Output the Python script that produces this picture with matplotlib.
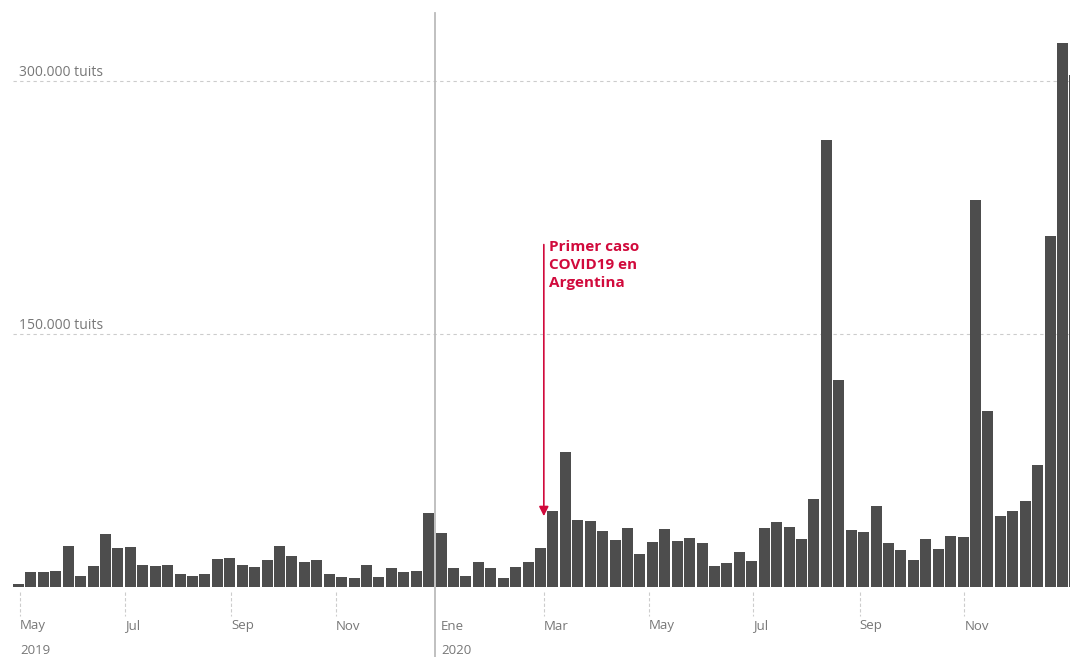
import matplotlib.pyplot as plt
import matplotlib.transforms as mtransforms
import numpy as np
import pandas as pd

# weekly tweet counts, May 2019 - Dec 2020
tuits = [
    1800, 8900, 8900, 9500, 24400, 6500, 12500, 31500, 23200, 23800,
    13100, 12500, 13100, 7700, 6500, 7700, 16700, 17300, 13100, 11900,
    16100, 24400, 18500, 14900, 16100, 7700, 6000, 5400, 13100, 6000,
    11300, 8900, 9500, 44000, 32100, 11300, 6500, 14900, 11300, 5400,
    11900, 14900, 23200, 45200, 79800, 39900, 39300, 33300, 28000, 35100,
    19600, 26800, 34500, 27400, 29200, 26200, 12500, 14300, 20800, 15500,
    35100, 38700, 35700, 28600, 52400, 264900, 122600, 33900, 32700, 48200,
    26200, 22000, 16100, 28600, 22600, 30400, 29800, 229700, 104200, 42300,
    45200, 51200, 72600, 208300, 322600, 303500,
]
first_week = pd.Timestamp("2019-04-30")
month_dates = pd.to_datetime([
    "2019-05-01", "2019-07-01", "2019-09-01", "2019-11-01", "2020-01-01",
    "2020-03-01", "2020-05-01", "2020-07-01", "2020-09-01", "2020-11-01",
])
month_labels = ["May", "Jul", "Sep", "Nov", "Ene", "Mar", "May", "Jul", "Sep", "Nov"]
grid_values = [150000, 300000]
grid_labels = ["150.000 tuits", "300.000 tuits"]
covid_date = pd.Timestamp("2020-03-01")
year_split = 33.5  # between last 2019 bar and first 2020 bar

BAR = "#4d4d4d"
GREY = "#777777"
RED = "#d10a3c"
FONT = "Open Sans"


def to_slot(d):
    # month axis runs slightly slower than the bar slots
    return (d - first_week).days / 7.24


fig = plt.figure(figsize=(10.70, 6.57), dpi=100)
ax = fig.add_axes([0, 70 / 657, 1, 587 / 657])

x = np.arange(len(tuits))
ax.bar(x, tuits, width=0.885, color=BAR, zorder=2)

ax.set_xlim(-1.49, 84.6)
ax.set_ylim(0, 348000)
ax.axis("off")

for v, lab in zip(grid_values, grid_labels):
    ax.plot([-0.45, 84.6], [v, v], color="#cccccc", lw=0.8, ls=(0, (3, 3)), zorder=1)
    ax.text(0.04, v + 500, lab, color=GREY, fontsize=10, family=FONT,
            ha="left", va="bottom")

# month ticks and labels below the bars
trans = mtransforms.blended_transform_factory(ax.transData, fig.transFigure)
for d, lab in zip(month_dates, month_labels):
    p = to_slot(d)
    if lab != "Ene":
        ax.plot([p, p], [1 - 592 / 657, 1 - 616 / 657], transform=trans,
                color="#cccccc", lw=0.8, ls=(0, (3, 2)), clip_on=False)
    ax.text(p, 1 - 626 / 657, lab, transform=trans, color=GREY, fontsize=9.5,
            family=FONT, ha="left", va="center")
ax.text(to_slot(month_dates[0]), 1 - 651 / 657, "2019", transform=trans,
        color=GREY, fontsize=9.5, family=FONT, ha="left", va="center")
ax.text(to_slot(month_dates[4]), 1 - 651 / 657, "2020", transform=trans,
        color=GREY, fontsize=9.5, family=FONT, ha="left", va="center")

# year separator
ax.plot([year_split, year_split], [1 - 13 / 657, 0], transform=trans,
        color="#bbbbbb", lw=1.3, clip_on=False, zorder=3)

# first covid case annotation
cp = to_slot(covid_date)
ax.annotate("", xy=(cp, 42000), xytext=(cp, 203000),
            arrowprops=dict(arrowstyle="-|>", color=RED, lw=1.2,
                            mutation_scale=14, shrinkA=0, shrinkB=0))
ax.text(cp + 0.4, 206000, "Primer caso\nCOVID19 en\nArgentina", color=RED,
        fontsize=11, fontweight="bold", family=FONT, ha="left", va="top",
        linespacing=1.38)

fig.savefig("out.png", dpi=100)
